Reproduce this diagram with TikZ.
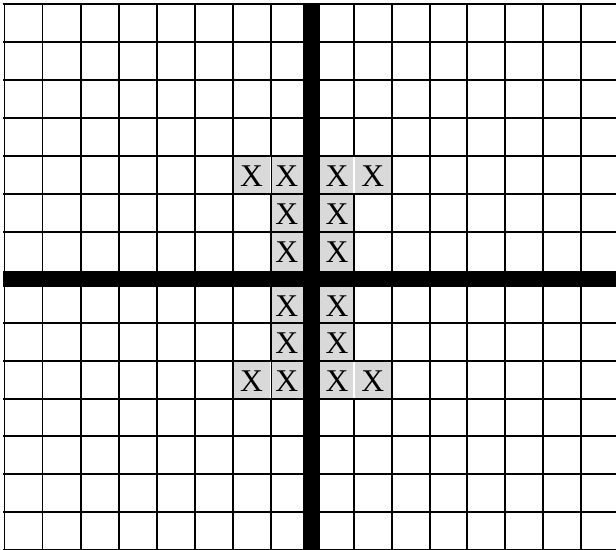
\documentclass[tikz,border=0pt]{standalone}
\usepackage{fontspec}
\setmainfont{Liberation Serif}
\definecolor{cellgray}{RGB}{217,217,217}
\tikzset{
  gridline/.style={line width=0.04cm},
  barline/.style={line width=0.33cm},
  sepline/.style={white, line width=0.025cm},
  xmark/.style={inner sep=0pt, font=\fontsize{18}{18}\selectfont}
}
\begin{document}
\begin{tikzpicture}[x=0.02cm, y=-0.02cm]
  \useasboundingbox (0,0) rectangle (616,550);
  % shaded cells with their X
  \foreach \xa/\xb/\ya/\yb [count=\i] in {
      232.5/270.5/156.1/194, 270.5/303/156.1/194, 320/354/156.1/194, 354/391.8/156.1/194,
      270.5/303/194/231.9, 320/354/194/231.9,
      270.5/303/231.9/271, 320/354/231.9/271,
      270.5/303/287/323, 320/354/287/323,
      270.5/303/323/360.8, 320/354/323/360.8,
      232.5/270.5/360.8/398.6, 270.5/303/360.8/398.6, 320/354/360.8/398.6, 354/391.8/360.8/398.6}
  {
    \fill[cellgray] (\xa,\ya) rectangle (\xb,\yb);
    \node[xmark] (x\i) at ({(\xa+\xb)/2},{(\ya+\yb)/2+1}) {X};
  }
  % draw thin vertical lines
  \foreach \x in {4.5,42.5,80.5,118.5,156.5,194.5,232.5,270.5,354,391.8,429.6,467.4,505.2,543,580.8}
    \draw[gridline] (\x,3.5) -- (\x,552);
  % draw thin horizontal lines
  \foreach \y in {4.5,42.4,80.3,118.2,156.1,194,231.9,323,360.8,398.6,436.4,474.2,512,549.8}
    \draw[gridline] (3.5,\y) -- (618,\y);
  % light seams between shaded neighbours
  \foreach \xs in {270.5,354} {
    \draw[sepline] (\xs,157.1) -- (\xs,193);
    \draw[sepline] (\xs,361.8) -- (\xs,397.6);
  }
  % draw the two thick axes
  \draw[barline] (311.5,3.5) -- (311.5,552);
  \draw[barline] (3.5,279) -- (618,279);
\end{tikzpicture}
\end{document}
